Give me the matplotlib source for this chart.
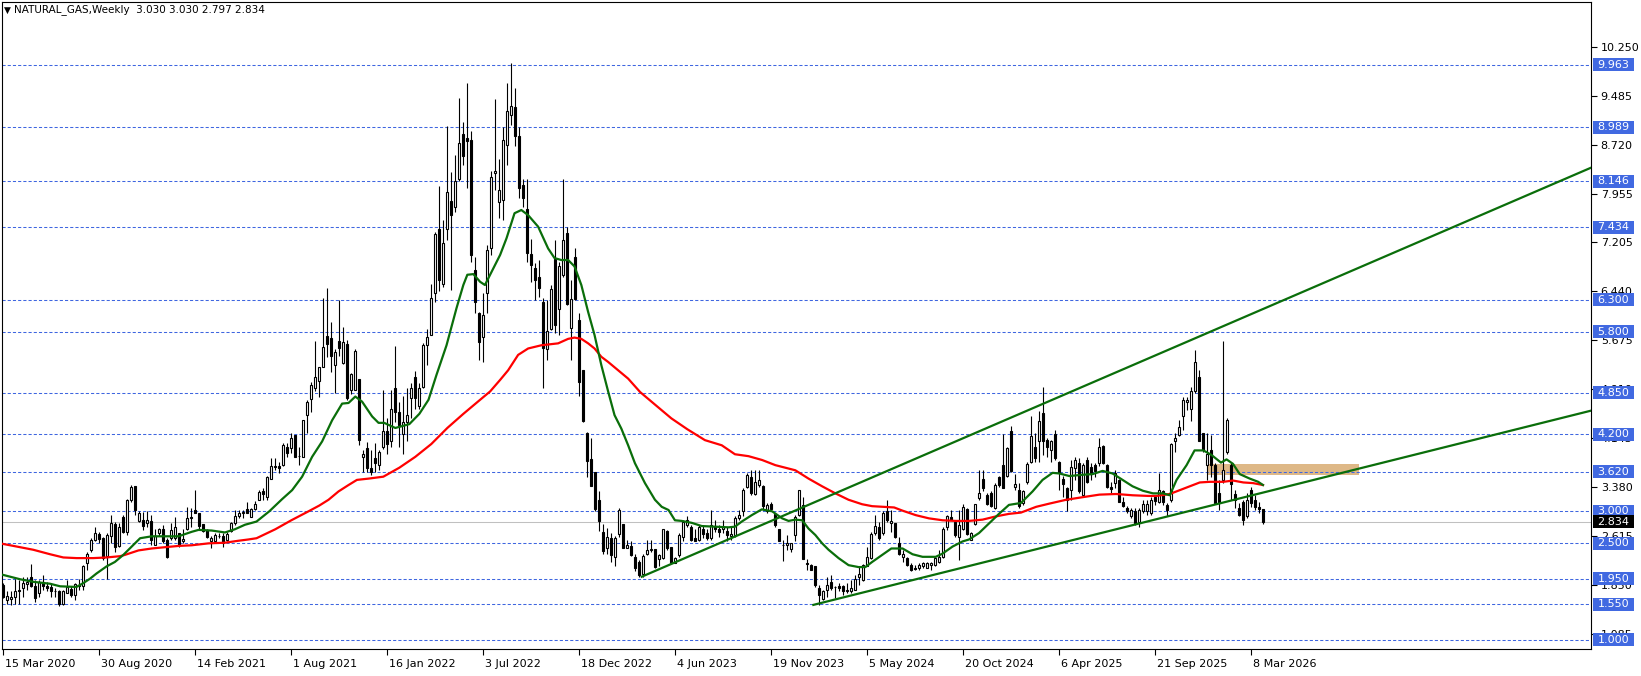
import matplotlib
matplotlib.use("Agg")
import matplotlib.pyplot as plt
from matplotlib.patches import Rectangle
import matplotlib.transforms as mtrans
import numpy as np

plt.rcParams['font.family'] = ['DejaVu Sans']

# ---------------- data (weekly bars from 15 Mar 2020) ----------------
opens = [
 1.85,1.61,1.63,1.66,1.77,1.80,1.87,1.98,1.84,1.73,
 1.89,1.83,1.82,1.76,1.75,1.56,1.73,1.79,1.70,1.83,
 1.83,2.19,2.40,2.56,2.64,2.58,2.31,2.61,2.80,2.46,
 2.91,2.68,3.17,3.39,2.85,2.87,2.82,2.85,2.47,2.66,
 2.73,2.55,2.59,2.58,2.66,2.53,2.72,2.91,3.02,2.97,
 2.80,2.71,2.54,2.54,2.61,2.61,2.55,2.70,2.81,2.93,
 2.97,3.03,2.91,3.03,3.18,3.32,3.23,3.51,3.71,3.70,
 3.72,4.00,3.98,4.19,3.86,3.85,4.51,4.75,4.92,5.04,
 5.25,5.74,5.70,5.29,5.66,5.31,5.61,4.90,4.90,5.06,
 3.84,3.98,3.67,3.83,3.72,4.00,4.25,4.10,4.92,4.55,
 4.20,4.40,4.76,5.10,4.65,4.94,5.59,5.75,6.40,7.41,
 6.54,7.40,7.84,7.75,8.19,8.88,8.82,8.79,6.77,6.09,
 5.72,6.40,7.10,8.27,7.83,7.85,8.72,9.19,9.30,8.85,
 8.09,7.71,7.01,6.80,6.66,6.27,5.53,5.84,6.93,6.16,
 6.69,7.34,5.86,6.96,5.98,5.20,4.22,3.82,3.61,3.18,
 2.68,2.42,2.58,2.29,2.64,2.80,2.43,2.46,2.29,2.21,
 2.02,2.34,2.40,2.41,2.26,2.27,2.70,2.44,2.20,2.32,
 2.60,2.79,2.75,2.58,2.55,2.73,2.66,2.58,2.77,2.72,
 2.72,2.70,2.61,2.63,2.89,3.00,3.38,3.53,3.27,3.41,
 3.40,3.00,3.12,2.96,2.73,2.48,2.47,2.41,2.63,2.94,
 3.10,2.20,2.16,2.14,1.81,1.63,1.77,1.89,1.82,1.83,
 1.83,1.76,1.76,1.78,1.97,1.93,2.15,2.27,2.66,2.76,
 2.66,3.01,2.81,2.81,2.51,2.28,2.27,2.16,2.12,2.11,
 2.14,2.12,2.16,2.16,2.21,2.29,2.75,2.91,2.84,2.60,
 2.73,3.03,2.56,2.80,3.20,3.50,3.25,3.28,3.05,3.53,
 3.72,3.55,4.26,3.38,3.33,3.13,3.45,3.77,4.00,4.09,
 4.54,4.12,3.95,4.21,3.77,3.50,3.37,3.33,3.68,3.76,
 3.25,3.80,3.69,3.72,3.75,4.02,3.72,3.38,3.44,3.49,
 3.15,3.05,2.92,3.01,2.84,3.01,3.00,2.97,3.22,3.15,
 3.31,3.10,3.18,4.10,4.19,4.48,4.71,4.59,4.87,5.09,
 4.22,3.72,3.96,3.72,3.28,3.49,3.93,3.72,3.27,3.05,
 3.15,2.92,3.34,3.18,3.06,3.03]

highs = [
 1.88,1.75,1.75,1.95,1.93,1.98,1.98,2.18,1.93,1.93,
 2.01,1.90,1.88,1.80,1.77,1.77,1.93,1.83,1.88,1.95,
 2.16,2.37,2.59,2.75,2.68,2.60,2.66,2.94,2.84,2.81,
 2.94,3.19,3.41,3.39,3.01,2.99,3.01,2.94,2.73,2.74,
 2.79,2.58,2.81,2.91,2.66,2.73,3.06,3.05,3.33,2.98,
 2.80,2.73,2.61,2.66,2.66,2.66,2.68,2.84,3.02,3.02,
 3.02,3.15,3.05,3.16,3.33,3.37,3.55,3.83,3.83,3.77,
 4.07,4.07,4.22,4.19,4.01,4.42,4.74,5.02,5.66,5.25,
 6.32,6.48,5.96,5.53,6.30,5.87,5.67,5.16,5.53,5.06,
 3.96,4.08,3.96,4.07,3.96,4.89,4.45,4.89,5.58,4.70,
 4.80,4.92,5.00,5.19,5.00,5.62,5.84,6.54,7.36,8.07,
 7.54,9.01,8.30,8.56,9.45,9.08,9.68,8.93,6.97,6.11,
 6.40,7.15,8.31,9.43,8.50,9.00,9.68,9.99,9.60,9.00,
 8.19,8.19,7.25,6.88,6.92,6.32,6.30,6.53,7.23,6.89,
 8.18,7.44,6.61,7.11,6.09,5.20,4.24,4.15,3.61,3.31,
 2.80,2.74,2.66,2.62,3.05,2.80,2.55,2.54,2.33,2.24,
 2.34,2.55,2.56,2.41,2.33,2.73,2.71,2.45,2.29,2.66,
 2.86,2.93,2.79,2.72,2.79,2.79,2.73,3.02,2.86,2.79,
 2.87,2.75,2.75,2.93,3.02,3.36,3.59,3.64,3.65,3.64,
 3.41,3.13,3.15,2.98,2.73,2.55,2.63,2.51,2.94,3.34,
 3.23,2.25,2.18,2.14,1.85,1.78,1.98,2.01,1.83,1.88,
 1.85,1.88,1.93,2.01,2.14,2.18,2.44,2.67,2.94,2.84,
 3.00,3.18,3.02,2.82,2.60,2.40,2.29,2.19,2.16,2.20,
 2.21,2.21,2.21,2.28,2.40,2.76,2.94,3.02,2.86,3.02,
 3.11,3.05,2.68,3.11,3.65,3.65,3.28,3.31,3.44,3.55,
 4.20,4.01,4.33,3.58,3.44,3.33,3.77,4.49,4.22,4.57,
 4.94,4.14,4.11,4.27,3.79,3.55,3.38,3.80,3.84,3.83,
 3.75,3.84,3.75,3.76,4.15,4.04,3.74,3.46,3.64,3.50,
 3.23,3.08,3.05,3.05,3.05,3.17,3.18,3.23,3.26,3.59,
 3.33,3.13,4.06,4.22,4.42,4.79,4.79,4.94,5.51,5.20,
 4.22,4.22,4.19,3.75,3.49,5.65,4.45,3.77,3.33,3.13,
 3.18,3.28,3.38,3.25,3.15,3.03]

lows = [
 1.64,1.56,1.54,1.56,1.56,1.67,1.77,1.82,1.59,1.67,
 1.77,1.75,1.67,1.67,1.53,1.54,1.72,1.67,1.62,1.77,
 1.77,2.08,2.37,2.53,2.50,2.24,1.94,2.50,2.37,2.45,
 2.66,2.63,3.15,2.94,2.84,2.71,2.76,2.47,2.47,2.61,
 2.50,2.27,2.55,2.55,2.45,2.50,2.71,2.76,2.97,2.71,
 2.68,2.59,2.42,2.53,2.58,2.45,2.53,2.68,2.79,2.89,
 2.89,2.97,2.91,3.02,3.18,3.18,3.18,3.50,3.64,3.59,
 3.70,3.85,3.91,3.85,3.72,3.85,4.22,4.55,4.87,4.78,
 5.25,5.40,5.18,4.84,5.42,5.30,4.74,4.83,4.89,4.03,
 3.62,3.62,3.57,3.62,3.64,3.97,3.90,4.00,4.40,4.00,
 3.90,4.10,4.45,4.60,4.60,4.92,5.28,5.75,6.27,6.43,
 6.50,7.23,6.45,7.67,8.15,8.40,8.04,6.89,6.09,5.36,
 5.33,6.09,7.00,8.01,7.57,7.54,8.40,9.03,8.70,7.88,
 7.75,6.89,6.57,6.30,6.35,4.92,5.36,5.83,5.78,5.75,
 6.66,6.22,5.36,6.30,4.80,4.39,3.54,3.40,3.00,2.69,
 2.34,2.34,2.21,2.14,2.60,2.43,2.42,2.31,2.07,1.98,
 1.97,2.32,2.37,2.11,2.14,2.25,2.40,2.19,2.19,2.29,
 2.53,2.76,2.53,2.53,2.54,2.58,2.56,2.56,2.68,2.60,
 2.66,2.53,2.56,2.60,2.87,2.92,3.36,3.26,3.25,3.38,
 3.02,2.98,3.02,2.76,2.53,2.23,2.39,2.37,2.53,2.93,
 2.25,2.08,2.08,1.82,1.54,1.61,1.66,1.77,1.64,1.76,
 1.69,1.72,1.73,1.77,1.85,1.92,2.14,2.25,2.63,2.55,
 2.63,2.84,2.68,2.59,2.32,2.21,2.14,2.07,2.08,2.08,
 2.11,2.11,2.09,2.14,2.19,2.27,2.71,2.86,2.60,2.24,
 2.71,2.63,2.55,2.79,3.18,3.31,3.10,3.07,3.04,3.38,
 3.37,3.54,3.62,3.33,3.05,3.10,3.43,3.75,3.77,3.77,
 3.88,3.85,3.77,3.80,3.34,3.23,3.01,3.18,3.49,3.29,
 3.23,3.44,3.49,3.53,3.70,3.74,3.37,3.28,3.36,3.15,
 3.07,2.97,2.89,2.79,2.76,2.97,2.94,2.94,3.10,3.13,
 3.10,2.92,3.15,3.93,4.18,4.27,4.58,4.41,4.84,4.09,
 3.93,3.49,3.54,3.12,3.02,3.44,3.90,3.18,3.05,2.92,
 2.79,2.89,3.07,3.02,2.98,2.797]

closes = [
 1.67,1.68,1.66,1.76,1.75,1.88,1.90,1.83,1.64,1.89,
 1.84,1.80,1.75,1.75,1.56,1.75,1.82,1.70,1.86,1.85,
 2.14,2.34,2.56,2.66,2.57,2.27,2.63,2.81,2.45,2.76,
 2.68,3.18,3.38,3.02,2.98,2.77,2.86,2.55,2.61,2.72,
 2.53,2.29,2.71,2.76,2.47,2.57,2.89,2.90,2.98,2.77,
 2.70,2.60,2.59,2.63,2.61,2.51,2.64,2.81,2.93,2.97,
 2.99,2.98,3.03,3.11,3.30,3.27,3.54,3.70,3.69,3.67,
 4.03,3.91,4.14,3.85,3.86,4.42,4.70,4.97,5.10,5.25,
 5.56,5.61,5.42,5.49,5.54,5.64,4.77,5.14,5.50,4.11,
 3.90,3.67,3.62,3.76,3.93,4.25,4.05,4.60,4.55,4.35,
 4.40,4.50,4.92,4.76,4.93,5.59,5.72,6.33,7.32,6.61,
 7.18,7.98,7.63,8.16,8.74,8.55,8.77,7.00,6.26,5.64,
 6.07,7.08,8.21,8.31,8.01,8.80,9.25,9.33,8.85,8.05,
 7.88,7.03,6.84,6.61,6.48,5.55,5.81,6.47,5.91,6.82,
 7.23,6.24,6.31,6.31,5.01,4.41,3.78,3.40,3.04,2.85,
 2.38,2.60,2.32,2.59,3.02,2.43,2.47,2.32,2.12,2.01,
 2.31,2.40,2.41,2.13,2.32,2.72,2.42,2.20,2.27,2.63,
 2.84,2.86,2.55,2.54,2.76,2.65,2.59,2.79,2.72,2.67,
 2.75,2.63,2.65,2.89,2.94,3.34,3.56,3.28,3.46,3.49,
 3.08,3.10,3.03,2.79,2.54,2.47,2.51,2.50,2.91,3.33,
 2.25,2.18,2.09,1.85,1.69,1.76,1.85,1.80,1.82,1.80,
 1.75,1.78,1.80,1.95,2.02,2.16,2.28,2.65,2.77,2.58,
 2.97,2.86,2.85,2.60,2.33,2.33,2.16,2.08,2.10,2.17,
 2.20,2.20,2.19,2.27,2.29,2.73,2.93,2.87,2.63,2.79,
 3.07,2.65,2.66,3.11,3.29,3.37,3.11,3.08,3.41,3.41,
 3.37,3.98,3.63,3.43,3.08,3.32,3.74,4.17,3.83,4.41,
 4.09,4.01,4.10,3.83,3.60,3.43,3.18,3.69,3.80,3.32,
 3.72,3.46,3.58,3.63,4.01,3.76,3.38,3.35,3.59,3.15,
 3.08,3.01,3.02,2.81,3.02,3.12,3.12,3.18,3.16,3.33,
 3.14,3.02,4.05,4.14,4.32,4.74,4.74,4.87,5.33,4.10,
 3.96,3.89,3.72,3.13,3.13,3.64,4.42,3.43,3.18,2.94,
 2.86,3.18,3.13,3.07,3.03,2.834]

# fast moving average (green), read as (bar, price)
ma_fast = [(-0.8,2.02),(4.2,1.94),(7.5,1.90),(11.7,1.87),(14.2,1.83),(18.3,1.82),(20,1.88),
 (21.7,1.95),(23.3,2.03),(25.8,2.14),(27.9,2.21),(30,2.32),(32.1,2.45),(34.2,2.58),(37.1,2.61),
 (40.4,2.61),(43.8,2.61),(47.1,2.68),(48.8,2.71),(52.1,2.70),(55.4,2.67),(57.9,2.72),(60.4,2.79),
 (63.3,2.84),(66.5,3.00),(69.7,3.19),(72.2,3.33),(74.7,3.54),(77.2,3.85),(79.7,4.09),(82.2,4.42),
 (84.7,4.68),(86.3,4.69),(88,4.79),(89.7,4.71),(92.2,4.48),(93.8,4.38),(95.2,4.38),(98,4.30),
 (101.5,4.36),(104,4.52),(106.3,4.74),(108.3,5.13),(110.8,5.59),(113.3,6.17),(115,6.53),(116,6.69),
 (117.5,6.70),(119.2,6.58),(120.4,6.53),(121.7,6.69),(124.2,7.00),(125.8,7.26),(127.8,7.65),
 (129.5,7.70),(131.2,7.62),(133.7,7.44),(136.2,7.10),(137.8,6.95),(139.5,6.92),(141.2,6.92),
 (142.8,6.82),(144.5,6.53),(146.2,6.11),(147.8,5.75),(149.5,5.28),(151.2,4.87),(152.8,4.50),
 (154.5,4.29),(156.2,4.03),(157.9,3.75),(160.4,3.44),(162.9,3.18),(164.6,3.07),(166.3,3.02),
 (167.9,2.86),(169.6,2.85),(172.1,2.82),(174.6,2.77),(177.9,2.76),(181.3,2.75),(182.9,2.76),
 (184.6,2.84),(187.1,2.94),(189.6,3.03),(192.2,3.00),(194.7,2.89),(196.3,2.85),(198,2.87),
 (199.7,2.86),(201.3,2.73),(203,2.63),(204.7,2.50),(206.3,2.40),(208.8,2.27),(211.3,2.16),
 (213.8,2.13),(215.5,2.13),(217.2,2.21),(219.7,2.32),(222,2.42),(224.8,2.42),(227.3,2.33),
 (229.8,2.29),(233.1,2.29),(234.8,2.34),(237.3,2.45),(239.8,2.53),(241.4,2.56),(243.9,2.66),
 (246.4,2.81),(248.9,2.96),(251.4,3.10),(254.4,3.13),(257.3,3.31),(259.8,3.49),(262.3,3.60),
 (264,3.59),(266.5,3.55),(269.8,3.57),(272.3,3.58),(274.8,3.63),(277.3,3.59),(279.8,3.49),
 (282.3,3.39),(284.9,3.32),(287.4,3.28),(289.9,3.28),(291.6,3.25),(293.3,3.49),(295.8,3.72),
 (297.8,3.95),(300,3.95),(302,3.88),(304.4,3.76),(305.8,3.81),(307.4,3.74),(309.1,3.58),
 (311.6,3.51),(313.7,3.46),(314.9,3.41)]

# slow moving average (red), read as (bar, price)
ma_slow = [(-0.8,2.50),(4.2,2.44),(7.5,2.40),(11.7,2.33),(15,2.28),(18.3,2.27),(22.5,2.27),
 (25.8,2.28),(29.2,2.30),(30.4,2.32),(33.8,2.39),(37.1,2.42),(40.4,2.44),(43.8,2.46),(47.1,2.47),
 (51.3,2.50),(55.4,2.51),(58.7,2.54),(61.2,2.56),(63.3,2.58),(68,2.72),(72,2.86),(76,2.99),
 (79,3.09),(81.3,3.18),(83.8,3.31),(86.3,3.41),(88.4,3.49),(91.3,3.51),(95,3.54),(99,3.68),
 (103,3.85),(107,4.05),(111,4.30),(115,4.52),(119.2,4.74),(121.7,4.87),(124.2,5.05),(126.2,5.20),
 (128.7,5.44),(131.2,5.54),(134.5,5.59),(138.7,5.62),(141.2,5.69),(142.8,5.71),(144.5,5.69),
 (146.2,5.62),(147.8,5.54),(149.5,5.41),(151.2,5.33),(153.7,5.20),(156.2,5.07),(159.2,4.86),
 (163,4.66),(167,4.45),(171,4.28),(175.4,4.11),(179.6,4.03),(182.9,3.89),(186.3,3.86),
 (189.7,3.80),(193,3.72),(198,3.64),(201.3,3.51),(204.7,3.39),(208,3.28),(211.3,3.18),
 (214.7,3.11),(217.2,3.08),(222.7,3.06),(224.8,3.01),(228.1,2.94),(231.4,2.89),(234.8,2.86),
 (238.1,2.85),(241.4,2.85),(244.8,2.87),(248.1,2.92),(251.4,2.96),(254.4,2.98),(258.2,3.07),
 (261.5,3.12),(265.7,3.18),(269.8,3.22),(274,3.26),(278.2,3.27),(282.3,3.25),(286.2,3.24),
 (288.3,3.24),(291.6,3.27),(294.1,3.33),(296.6,3.39),(299.1,3.45),(301.6,3.46),(305,3.46),
 (307.4,3.48),(310,3.45),(312.4,3.44),(314.9,3.41)]

trend_upper = [(159.6, 1.98), (396.9, 8.36)]
trend_lower = [(202.5, 1.54), (396.9, 4.57)]
zone_bars = (301.0, 338.8)
zone_prices = (3.56, 3.74)

levels = [9.963, 8.989, 8.146, 7.434, 6.300, 5.800, 4.850, 4.200, 3.620, 3.000, 2.500, 1.950, 1.550, 1.000]
axis_ticks = [10.250, 9.485, 8.720, 7.955, 7.205, 6.440, 5.675, 4.910, 4.145, 3.380, 2.615, 1.850, 1.085]
date_pos = [0, 24, 48, 72, 96, 120, 144, 168, 192, 216, 240, 264, 288, 312]
date_labels = ['15 Mar 2020', '30 Aug 2020', '14 Feb 2021', '1 Aug 2021', '16 Jan 2022', '3 Jul 2022',
               '18 Dec 2022', '4 Jun 2023', '19 Nov 2023', '5 May 2024', '20 Oct 2024', '6 Apr 2025',
               '21 Sep 2025', '8 Mar 2026']
last_price = 2.834
header_text = 'NATURAL_GAS,Weekly  3.030 3.030 2.797 2.834'

# ---------------- figure ----------------
W, H, DPI = 1641, 676, 100
fig = plt.figure(figsize=(W / DPI, H / DPI), dpi=DPI, facecolor='white')
PL, PR, PT, PB = 2, 1591, 2, 649
ax = fig.add_axes([PL / W, 1 - PB / H, (PR - PL) / W, (PB - PT) / H])
ax.set_xlim(-0.325, 396.9)
ax.set_ylim(0.852, 10.945)
ax.set_facecolor('white')

# zone rectangle
ax.add_patch(Rectangle((zone_bars[0], zone_prices[0]), zone_bars[1] - zone_bars[0],
                       zone_prices[1] - zone_prices[0], facecolor='#DEB887', edgecolor='none', zorder=1))

# level lines
for lv in levels:
    ax.axhline(lv, color='#3F66E0', linewidth=0.75, linestyle=(0, (3, 2)), zorder=2)
ax.axhline(last_price, color='#C0C0C0', linewidth=0.75, zorder=1.5)

# candles
o = np.array(opens); c = np.array(closes); h = np.array(highs); l = np.array(lows)
idx = np.arange(len(c))
ax.vlines(idx, l, h, colors='black', linewidth=0.8, zorder=4)
up = c >= o
ax.bar(idx[up], c[up] - o[up], bottom=o[up], width=0.5, color='white', edgecolor='black',
       linewidth=0.8, zorder=5)
ax.bar(idx[~up], o[~up] - c[~up], bottom=c[~up], width=0.5, color='black', edgecolor='black',
       linewidth=0.8, zorder=5)

# moving averages
fx, fy = zip(*ma_fast)
sx, sy = zip(*ma_slow)
ax.plot(sx, sy, color='#FF0000', linewidth=1.6, zorder=6, solid_joinstyle='round')
ax.plot(fx, fy, color='#0A6E0A', linewidth=1.6, zorder=6, solid_joinstyle='round')

# trend lines
for tl in (trend_upper, trend_lower):
    tx, ty = zip(*tl)
    ax.plot(tx, ty, color='#0A6E0A', linewidth=1.6, zorder=6)

# axes
for sp in ax.spines.values():
    sp.set_linewidth(0.8)
    sp.set_color('black')
ax.yaxis.tick_right()
ax.set_yticks(axis_ticks)
ax.set_yticklabels([f"{v:.3f}" for v in axis_ticks])
ax.tick_params(axis='y', direction='out', length=4, width=0.8, pad=3, labelsize=8, colors='black')
ax.set_xticks(date_pos)
ax.set_xticklabels(date_labels, ha='left')
ax.tick_params(axis='x', direction='out', length=4, width=0.8, pad=3, labelsize=8, colors='black')
off = mtrans.ScaledTranslation(2 / DPI, 0, fig.dpi_scale_trans)
for lab in ax.get_xticklabels():
    lab.set_transform(lab.get_transform() + off)

# price labels on the right
def add_box(price, fc):
    yd = ax.transData.transform((0, price))[1]
    fig.add_artist(Rectangle((1593 / W, (yd - 6.5) / H), 41 / W, 13 / H, transform=fig.transFigure,
                             facecolor=fc, edgecolor='none', zorder=10))
    fig.text(1613.5 / W, yd / H, f"{price:.3f}", color='white', fontsize=8, ha='center',
             va='center', zorder=11)

for lv in levels:
    add_box(lv, '#4169E1')
add_box(last_price, 'black')

# header
fig.text(4 / W, 1 - 10 / H, '\u25BC', fontsize=6.5, va='center', ha='left', color='black')
fig.text(14 / W, 1 - 10 / H, header_text, fontsize=7.5, va='center', ha='left', color='black')

fig.savefig('out.png', dpi=DPI, facecolor='white')
